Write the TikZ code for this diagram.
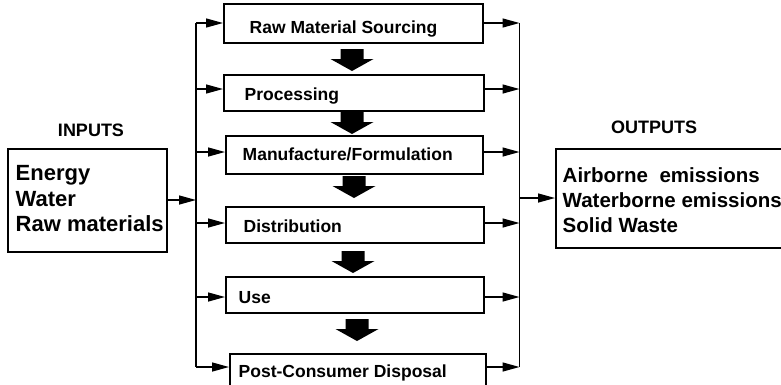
\documentclass[tikz,border=0pt]{standalone}
\usepackage{fontspec}
\setmainfont{Liberation Sans}
\usetikzlibrary{arrows.meta}
\begin{document}
\begin{tikzpicture}[x=1pt,y=-1pt,line width=1.4pt,
  stage/.style={draw,line width=1.5pt,inner sep=0pt,anchor=north west},
  lbl/.style={anchor=base west,inner sep=0pt,font=\bfseries\fontsize{17.5}{20}\selectfont},
  biglbl/.style={anchor=base west,inner sep=0pt,font=\bfseries\fontsize{22}{25}\selectfont},
  outlbl/.style={anchor=base west,inner sep=0pt,font=\bfseries\fontsize{20.5}{24}\selectfont},
  headlbl/.style={anchor=base,inner sep=0pt,font=\bfseries\fontsize{18}{20}\selectfont},
  arr/.style={-{Triangle[length=17pt,width=9pt]}},
  blockarrow/.pic={\fill (-11.5,0) -- (11.5,0) -- (11.5,10) -- (21.5,10) -- (0,22) -- (-21.5,10) -- (-11.5,10) -- cycle;}]
\useasboundingbox (0,0) rectangle (781,384);
\clip (0,0) rectangle (781,384);
% stage boxes
\node[stage,minimum width=259pt,minimum height=39pt] (b1) at (223,3) {};
\node[stage,minimum width=260pt,minimum height=36pt] (b2) at (223,74) {};
\node[stage,minimum width=257pt,minimum height=38pt] (b3) at (225,135) {};
\node[stage,minimum width=258pt,minimum height=36pt] (b4) at (225,206) {};
\node[stage,minimum width=258pt,minimum height=36pt] (b5) at (225,276) {};
\node[stage,minimum width=256pt,minimum height=40pt] (b6) at (229,353) {};
\node[lbl] (t1) at (249,33) {Raw Material Sourcing};
\node[lbl] (t2) at (244,100) {Processing};
\node[lbl] (t3) at (242,160) {Manufacture/Formulation};
\node[lbl] (t4) at (243,232) {Distribution};
\node[lbl] (t5) at (238,303) {Use};
\node[lbl] (t6) at (238,377) {Post-Consumer Disposal};
% block arrows
\pic at (352,49) {blockarrow};
\pic at (352,112) {blockarrow};
\pic at (354,176) {blockarrow};
\pic at (353,251) {blockarrow};
\pic at (357,319) {blockarrow};
% inputs
\node[headlbl] (inh) at (91,136) {INPUTS};
\node[draw,line width=1.5pt,inner sep=0pt,anchor=north west,minimum width=159pt,minimum height=103pt] (inp) at (7,148) {};
\node[biglbl] (i1) at (15,180) {Energy};
\node[biglbl] (i2) at (15,206) {Water};
\node[biglbl] (i3) at (15,231) {Raw materials};
% outputs
\node[headlbl] (outh) at (654,133) {OUTPUTS};
\node[draw,line width=1.5pt,inner sep=0pt,anchor=north west,minimum width=240pt,minimum height=99pt] (outp) at (555,148) {};
\node[outlbl] (o1) at (562,182) {Airborne\ \ emissions};
\node[outlbl] (o2) at (562,207) {Waterborne emissions};
\node[outlbl] (o3) at (562,232) {Solid Waste};
% distribution lines
\coordinate (l1) at (196,23);
\coordinate (l2) at (196,89);
\coordinate (l3) at (196,152);
\coordinate (l4) at (196,223);
\coordinate (l5) at (196,297);
\coordinate (l6) at (196,367);
\coordinate (lin) at (196,200);
\coordinate (r1) at (519.5,23);
\coordinate (r2) at (519.5,89);
\coordinate (r3) at (519.5,152);
\coordinate (r4) at (519.5,223);
\coordinate (r5) at (519.5,297);
\coordinate (r6) at (519.5,367);
\coordinate (rout) at (519.5,198);
\draw (l1) -- (l6);
\draw (r1) -- (r6);
\foreach \i in {1,...,6} {
  \draw[arr] (l\i) -- (l\i -| b\i.west);
  \draw[arr] (r\i -| b\i.east) -- (r\i);
}
\draw[arr] (inp.east |- lin) -- (lin);
\draw[arr] (rout) -- (rout -| outp.west);
\end{tikzpicture}
\end{document}
